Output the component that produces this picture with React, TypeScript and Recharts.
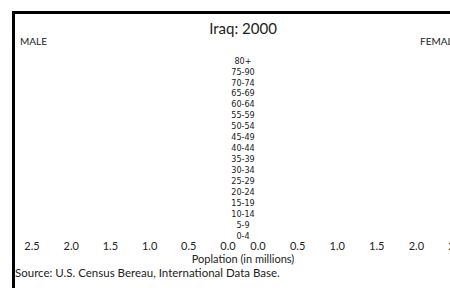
import React from 'react';
import { BarChart, Bar, XAxis, YAxis } from 'recharts';

const ageGroups = ['80+', '75-90', '70-74', '65-69', '60-64', '55-59', '50-54', '45-49', '40-44', '35-39', '30-34', '25-29', '20-24', '15-19', '10-14', '5-9', '0-4'];
const maleValues = [0, 0, 0, 0, 0, 0, 0, 0, 0, 0, 0, 0, 0, 0, 0, 0, 0];
const femaleValues = [0, 0, 0, 0, 0, 0, 0, 0, 0, 0, 0, 0, 0, 0, 0, 0, 0];
const xTicks = [0, 0.5, 1, 1.5, 2, 2.5];
const title = 'Iraq: 2000';
const leftLabel = 'MALE';
const rightLabel = 'FEMALE';
const axisTitle = 'Poplation (in millions)';
const sourceNote = 'Source: U.S. Census Bereau, International Data Base.';

const data = ageGroups.map((age, i) => ({ age, male: maleValues[i], female: femaleValues[i] }));

const FONT = 'Lato, "Open Sans", sans-serif';
const tickStyle = { fontFamily: FONT, fontSize: 11, fill: '#222' };

const AgeTick = (props: any) => {
  const { x, y, payload } = props;
  return (
    <text x={x + 15} y={y} dy="0.35em" textAnchor="middle" fontFamily='"Liberation Sans Narrow", "DejaVu Sans Condensed", sans-serif' fontSize={9} fill="#222">
      {payload.value}
    </text>
  );
};

const fmt = (v: number) => v.toFixed(1);

const CHART_TOP = 15;
const MARGIN_TOP = 40;
const PLOT_H = 186;
const XAXIS_H = 20;
const CH = MARGIN_TOP + PLOT_H + XAXIS_H;

export default function App() {
  return (
    <div style={{ position: 'fixed', left: 0, top: 0, width: 450, height: 288, overflow: 'hidden', fontFamily: FONT, background: '#fff' }}>
      <div style={{ position: 'absolute', left: 12, top: 11, width: 470, height: 320, border: '3px solid #000', boxSizing: 'border-box' }} />
      <div style={{ position: 'absolute', left: 8, top: 18, width: 470, textAlign: 'center', fontSize: 15, color: '#222', lineHeight: '20px' }}>{title}</div>
      <div style={{ position: 'absolute', left: 20, top: 35, fontSize: 10, color: '#222', lineHeight: '12px' }}>{leftLabel}</div>
      <div style={{ position: 'absolute', left: 420, top: 35, fontSize: 10, color: '#222', lineHeight: '12px', whiteSpace: 'nowrap' }}>{rightLabel}</div>
      <div style={{ position: 'absolute', left: 15, top: CHART_TOP }}>
        <BarChart width={243} height={CH} data={data} layout="vertical" margin={{ top: MARGIN_TOP, right: 0, bottom: 0, left: 17 }}>
          <XAxis type="number" domain={[0, 2.5]} ticks={xTicks} reversed axisLine={false} tickLine={false} tickSize={0} tickMargin={1} tick={tickStyle} tickFormatter={fmt} interval={0} height={XAXIS_H} />
          <YAxis type="category" dataKey="age" orientation="right" width={30} axisLine={false} tickLine={false} tickSize={0} tickMargin={0} tick={<AgeTick />} interval={0} />
          <Bar dataKey="male" fill="#4a6fa5" isAnimationActive={false} />
        </BarChart>
      </div>
      <div style={{ position: 'absolute', left: 243, top: CHART_TOP }}>
        <BarChart width={231} height={CH} data={data} layout="vertical" margin={{ top: MARGIN_TOP, right: 18, bottom: 0, left: 15 }}>
          <XAxis type="number" domain={[0, 2.5]} ticks={xTicks} axisLine={false} tickLine={false} tickSize={0} tickMargin={1} tick={tickStyle} tickFormatter={fmt} interval={0} height={XAXIS_H} />
          <YAxis type="category" dataKey="age" hide />
          <Bar dataKey="female" fill="#c0504d" isAnimationActive={false} />
        </BarChart>
      </div>
      <div style={{ position: 'absolute', left: 8, top: 252, width: 470, textAlign: 'center', fontSize: 11, color: '#222', lineHeight: '14px' }}>{axisTitle}</div>
      <div style={{ position: 'absolute', left: 15, top: 266, fontSize: 11.5, color: '#222', lineHeight: '14px', whiteSpace: 'nowrap' }}>{sourceNote}</div>
    </div>
  );
}
